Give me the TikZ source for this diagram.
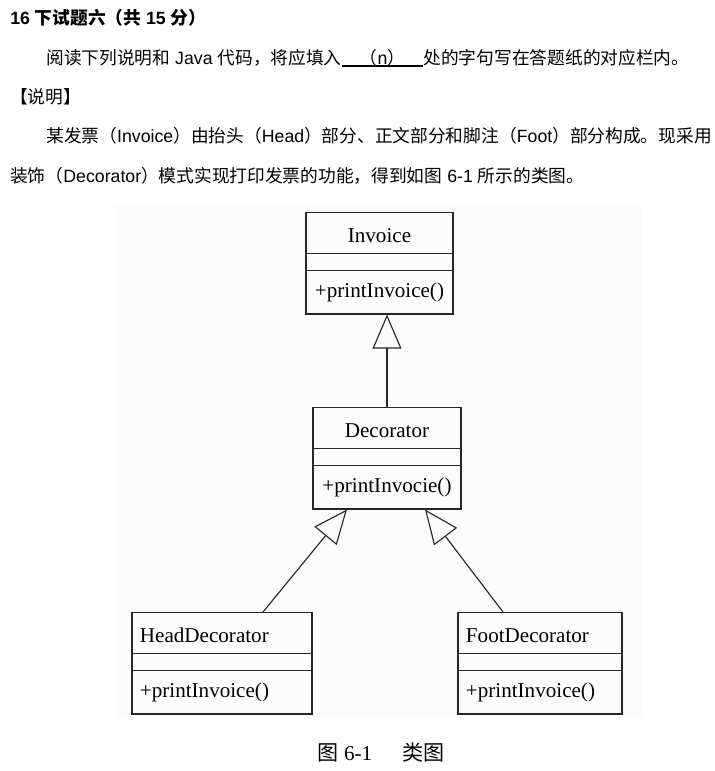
\documentclass[tikz,border=0pt]{standalone}
\usepackage{fontspec}
\setmainfont{Liberation Serif}
\newfontfamily\zh{Noto Sans CJK SC}
\newfontfamily\lat{Liberation Sans}
\usetikzlibrary{arrows.meta,positioning,shapes.multipart}

\newcommand{\Z}[1]{{\zh #1}}
\newcommand{\namestrut}{\rule[-0.275cm]{0pt}{1cm}}
\newcommand{\attrstrut}{\rule{0pt}{0.4cm}}
\newcommand{\opstrut}{\rule[-0.4cm]{0pt}{1.05cm}}

\begin{document}
\begin{tikzpicture}[
    x=0.025cm, y=-0.025cm,
    txt/.style={anchor=base west, inner sep=0pt, font=\lat\fontsize{12.6}{15}\selectfont},
    umlclass/.style={draw=black!85, line width=0.8pt, rectangle split, rectangle split parts=3,
        inner xsep=0.2cm, inner ysep=0pt, anchor=north, font=\fontsize{15}{18}\selectfont},
    inherit/.style={-{Triangle[open, length=0.85cm, width=0.72cm]}, line width=0.8pt, draw=black!85}
]
\useasboundingbox (0,0) rectangle (715,771);
\fill[black!1] (115,205) rectangle (642,718);

% question text
\node[txt] (title) at (10,24) {\bfseries 16 \Z{下试题六（共} 15 \Z{分）}};
\node[txt] (intro) at (46,64) {\Z{阅读下列说明和} Java \Z{代码，将应填入}};
\node[txt, minimum width=2.02cm] (blank) at (intro.base east) {\Z{（}n\Z{）}};
\node[txt] (intro2) at (blank.base east) {\Z{处的字句写在答题纸的对应栏内。}};
\draw[line width=1.4pt] (blank.south west) -- (blank.south east);
\node[txt] (shuoming) at (10,103) {\Z{【说明】}};
\node[txt] (desc1) at (46,142) {\Z{某发票（}Invoice\Z{）由抬头（}Head\Z{）部分、正文部分和脚注（}Foot\Z{）部分构成。现采用}};
\node[txt] (desc2) at (10,182) {\Z{装饰（}Decorator\Z{）模式实现打印发票的功能，得到如图} 6-1 \Z{所示的类图。}};

% class diagram
\node[umlclass, text width=3.275cm, align=center] (invoice) at (379.5,212)
    {\namestrut Invoice \nodepart{two}\attrstrut \nodepart{three}\opstrut +printInvoice()};
\node[umlclass, text width=3.3cm, align=center] (decorator) at (387,407)
    {\namestrut Decorator \nodepart{two}\attrstrut \nodepart{three}\opstrut +printInvocie()};
\node[umlclass, text width=4.1cm, align=left] (headdec) at (222,612)
    {\namestrut HeadDecorator \nodepart{two}\attrstrut \nodepart{three}\opstrut +printInvoice()};
\node[umlclass, text width=3.7cm, align=left] (footdec) at (540,612)
    {\namestrut FootDecorator \nodepart{two}\attrstrut \nodepart{three}\opstrut +printInvoice()};

\draw[inherit] (decorator.north) -- (decorator.north |- invoice.south);
\draw[inherit] ([xshift=1.025cm]headdec.north) -- ([xshift=-1cm]decorator.south);
\draw[inherit] ([xshift=-0.925cm]footdec.north) -- ([xshift=0.95cm]decorator.south);

\node[font=\fontsize{15}{18}\selectfont] (caption) at (381,752) {\Z{图} 6-1\hspace{0.75cm}\Z{类图}};
\end{tikzpicture}
\end{document}
